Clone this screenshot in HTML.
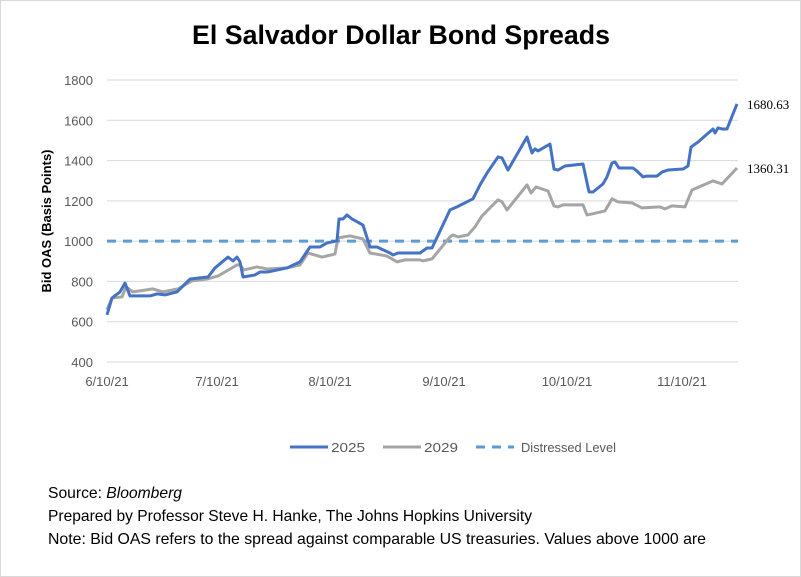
<!DOCTYPE html>
<html><head><meta charset="utf-8"><style>
body{margin:0;background:#fff;}
svg{display:block;font-family:"Liberation Sans",sans-serif;}
</style></head><body>
<svg width="801" height="577" viewBox="0 0 801 577">
<rect x="0.5" y="0.5" width="800" height="576" fill="#fff" stroke="#d9d9d9"/>
<text x="401" y="44" text-anchor="middle" font-size="27" font-weight="bold" fill="#000" textLength="418" lengthAdjust="spacingAndGlyphs">El Salvador Dollar Bond Spreads</text>
<g id="grid"></g>
<g id="yt"></g>
<g id="xt"></g>
<text transform="translate(51,221) rotate(-90)" text-anchor="middle" font-size="13" font-weight="bold" fill="#000">Bid OAS (Basis Points)</text>
<g id="series"></g>
<g>
<g><line x1="290" y1="447" x2="328" y2="447" stroke="#4472c4" stroke-width="3"/><text x="331" y="452" font-size="13" fill="#595959" textLength="34" lengthAdjust="spacingAndGlyphs">2025</text></g>
<g><line x1="383" y1="447" x2="421" y2="447" stroke="#a5a5a5" stroke-width="3"/><text x="424" y="452" font-size="13" fill="#595959" textLength="34" lengthAdjust="spacingAndGlyphs">2029</text></g>
<g><line x1="476" y1="447" x2="514" y2="447" stroke="#5b9bd5" stroke-width="3" stroke-dasharray="9,7"/><text x="521" y="452" font-size="13" fill="#595959" textLength="95" lengthAdjust="spacingAndGlyphs">Distressed Level</text></g>
</g>
<g font-size="16" fill="#000">
<text x="48" y="498" textLength="134" lengthAdjust="spacingAndGlyphs">Source: <tspan font-style="italic">Bloomberg</tspan></text>
<text x="48" y="521" textLength="484" lengthAdjust="spacingAndGlyphs">Prepared by Professor Steve H. Hanke, The Johns Hopkins University</text>
<text x="48" y="544" textLength="658" lengthAdjust="spacingAndGlyphs">Note: Bid OAS refers to the spread against comparable US treasuries. Values above 1000 are</text>
</g>
</svg>
<script>
const yTicks=[400,600,800,1000,1200,1400,1600,1800];
const xTickPos=[0,110,223,337,460,575];
const xTickLabels=["6/10/21","7/10/21","8/10/21","9/10/21","10/10/21","11/10/21"];
const distressed=1000;
const x2025=[0,5,13,18,23,43,50,58,70,83,101,108,121,126,130,133,136,148,153,161,180,193,203,213,220,230,232,236,240,245,256,263,270,283,286,291,313,320,325,343,350,366,373,380,391,395,401,420,425,428,431,443,447,451,458,476,482,486,496,500,505,508,512,526,530,536,540,550,555,561,576,581,584,591,606,608,611,615,620,630];
const v2025=[634,718,748,792,728,728,738,733,748,812,822,867,921,902,921,897,822,832,847,847,867,897,971,971,991,1001,1110,1110,1130,1110,1080,971,971,941,931,941,941,966,966,1155,1170,1210,1279,1338,1418,1413,1353,1517,1438,1458,1448,1482,1358,1353,1373,1383,1244,1244,1284,1319,1388,1393,1363,1363,1348,1319,1323,1323,1343,1353,1358,1373,1467,1492,1557,1537,1562,1557,1557,1681];
const x2029=[0,5,15,19,26,46,56,71,85,100,111,130,133,137,150,160,180,193,201,215,228,231,243,256,263,280,290,298,313,316,325,343,346,351,361,368,375,391,395,400,420,424,429,441,447,451,456,476,480,485,498,505,511,525,535,553,558,565,578,585,606,615,630];
const v2029=[659,718,723,773,748,763,748,763,803,812,827,882,882,857,872,862,867,882,941,921,936,1016,1026,1011,941,926,897,907,907,902,912,1021,1031,1021,1031,1071,1125,1205,1195,1155,1279,1239,1269,1249,1175,1170,1180,1180,1130,1135,1150,1210,1195,1190,1165,1170,1160,1175,1170,1254,1299,1284,1363];
const endLabels=["1680.63","1360.31"];
const NS="http://www.w3.org/2000/svg";
const X0=107,X1=738,Y0=362,Y1=80;
const xs=t=>X0+t;
const ys=v=>Y0-(v-400)/(1800-400)*(Y0-Y1);
function mk(tag,attrs,parent){const e=document.createElementNS(NS,tag);for(const k in attrs)e.setAttribute(k,attrs[k]);parent.appendChild(e);return e;}
const grid=document.getElementById('grid'),yt=document.getElementById('yt'),xt=document.getElementById('xt'),ser=document.getElementById('series');
yTicks.forEach(v=>{
 const l=mk('line',{x1:X0,x2:X1,y1:ys(v),y2:ys(v),stroke:'#d9d9d9','stroke-width':1},grid);
 
 
 const t=mk('text',{x:93,y:ys(v)+5,'text-anchor':'end','font-size':13,fill:'#595959'},yt);
 t.textContent=v;
 
 
});
xTickPos.forEach((p,i)=>{
 const t=mk('text',{x:xs(p),y:386,'text-anchor':'middle','font-size':13,fill:'#595959'},xt);
 t.textContent=xTickLabels[i];
 
 
});
const d=mk('line',{x1:X0,x2:X1,y1:ys(distressed),y2:ys(distressed),stroke:'#5b9bd5','stroke-width':3,'stroke-dasharray':'9,7'},ser);


function line(xa,va,color,name){
 const p=mk('polyline',{points:xa.map((x,i)=>xs(x)+','+ys(va[i])).join(' '),fill:'none',stroke:color,'stroke-width':3,'stroke-linejoin':'round'},ser);
 
 
}
line(x2029,v2029,'#a5a5a5','line-2029');
line(x2025,v2025,'#4472c4','line-2025');
[[x2025,v2025],[x2029,v2029]].forEach((s,i)=>{
 const n=s[0].length-1;
 const t=mk('text',{x:xs(s[0][n])+10,y:ys(s[1][n])+5,'font-size':13,fill:'#000','font-family':'Liberation Serif, serif'},ser);
 t.textContent=endLabels[i];
 
 
});
</script>
</body></html>
